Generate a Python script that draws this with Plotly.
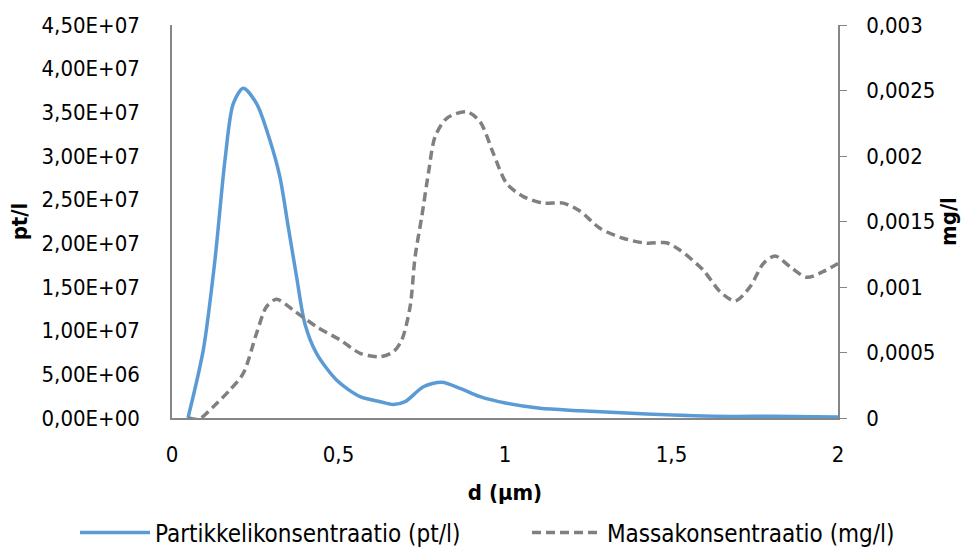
import plotly.graph_objects as go

# Particle concentration (pt/l), left axis
d_part = [0.048, 0.094, 0.129, 0.159, 0.184, 0.214, 0.254, 0.294, 0.324, 0.349, 0.374,
          0.399, 0.434, 0.494, 0.565, 0.625, 0.665, 0.700, 0.755, 0.81, 0.865, 0.925,
          1.005, 1.105, 1.225, 1.425, 1.676, 1.8, 2.0]
part = [0, 7.8e6, 1.81e7, 2.95e7, 3.6e7, 3.775e7, 3.6e7, 3.18e7, 2.76e7, 2.19e7, 1.62e7,
        1.08e7, 7.4e6, 4.35e6, 2.44e6, 1.87e6, 1.55e6, 1.87e6, 3.58e6, 4.09e6, 3.4e6, 2.44e6,
        1.68e6, 1.11e6, 8.4e5, 4.6e5, 1.8e5, 2.0e5, 1.2e5]

# Mass concentration (mg/l), right axis
d_mass = [0.049, 0.080, 0.124, 0.174, 0.214, 0.254, 0.284, 0.314, 0.364, 0.434, 0.505,
          0.565, 0.625, 0.665, 0.69, 0.715, 0.73, 0.75, 0.77, 0.79, 0.825, 0.885, 0.925,
          0.965, 1.005, 1.055, 1.115, 1.175, 1.225, 1.285, 1.355, 1.425, 1.485, 1.525,
          1.595, 1.646, 1.691, 1.736, 1.776, 1.811, 1.856, 1.906, 1.955, 2.0]
mass = [0, -0.00001, 8.6e-5, 2.14e-4, 3.4e-4, 6.47e-4, 8.5e-4, 9.06e-4, 8.24e-4, 6.97e-4, 5.95e-4,
        4.94e-4, 4.68e-4, 5.06e-4, 5.95e-4, 8.5e-4, 1.23e-3, 1.537e-3, 1.868e-3, 2.147e-3,
        2.288e-3, 2.338e-3, 2.262e-3, 2.02e-3, 1.79e-3, 1.69e-3, 1.64e-3, 1.64e-3, 1.58e-3,
        1.448e-3, 1.372e-3, 1.334e-3, 1.338e-3, 1.282e-3, 1.13e-3, 9.64e-4, 8.93e-4, 1.002e-3,
        1.18e-3, 1.237e-3, 1.155e-3, 1.074e-3, 1.117e-3, 1.18e-3]

x_ticks = [0, 0.5, 1, 1.5, 2]
x_tick_labels = ["0", "0,5", "1", "1,5", "2"]
left_ticks = [0, 5e6, 1e7, 1.5e7, 2e7, 2.5e7, 3e7, 3.5e7, 4e7, 4.5e7]
left_tick_labels = ["0,00E+00", "5,00E+06", "1,00E+07", "1,50E+07", "2,00E+07",
                    "2,50E+07", "3,00E+07", "3,50E+07", "4,00E+07", "4,50E+07"]
right_ticks = [0, 0.0005, 0.001, 0.0015, 0.002, 0.0025, 0.003]
right_tick_labels = ["0", "0,0005", "0,001", "0,0015", "0,002", "0,0025", "0,003"]

FONT = "DejaVu Sans Condensed, Lato"
FS = 22
LFS = 24
AX = "#868686"

fig = go.Figure()
fig.add_trace(go.Scatter(x=d_part, y=part, mode="lines", name="Partikkelikonsentraatio (pt/l)",
                         legend="legend",
                         line=dict(color="#5B9BD5", width=3.5, shape="spline", smoothing=0.8)))
fig.add_trace(go.Scatter(x=d_mass, y=mass, mode="lines", name="Massakonsentraatio (mg/l)",
                         yaxis="y2", legend="legend2",
                         line=dict(color="#808080", width=3.5, dash="9px,5px", shape="spline", smoothing=0.8)))

fig.update_layout(
    width=967, height=547,
    margin=dict(l=172, r=129, t=25, b=129, autoexpand=False),
    paper_bgcolor="white", plot_bgcolor="white",
    font=dict(family=FONT, size=FS, color="#000000"),
    showlegend=True,
    legend=dict(orientation="h", x=-0.1456, xanchor="left", y=-0.2926, yanchor="middle",
                font=dict(size=LFS), itemwidth=70, bgcolor="rgba(0,0,0,0)"),
    legend2=dict(orientation="h", x=0.533, xanchor="left", y=-0.2926, yanchor="middle",
                 font=dict(size=LFS), itemwidth=70, bgcolor="rgba(0,0,0,0)"),
    xaxis=dict(range=[0, 2], tickvals=x_ticks, ticktext=x_tick_labels, showgrid=False,
               zeroline=False, showline=True, linecolor=AX, linewidth=1.5, ticks="",
               ticklabelstandoff=16, automargin=False,
               title=dict(text="<b>d (µm)</b>", font=dict(size=FS), standoff=18)),
    yaxis=dict(range=[0, 4.5e7], tickvals=left_ticks, ticktext=left_tick_labels, showgrid=False,
               zeroline=False, showline=True, linecolor=AX, linewidth=1.5, ticks="",
               ticklabelstandoff=26, automargin=False,
               title=dict(text="<b>pt/l</b>", font=dict(size=FS), standoff=8)),
    yaxis2=dict(range=[0, 0.003], tickvals=right_ticks, ticktext=right_tick_labels, overlaying="y",
                side="right", showgrid=False, zeroline=False, showline=True, linecolor=AX,
                linewidth=1.5, ticks="outside", ticklen=7, tickcolor=AX, ticklabelstandoff=15,
                automargin=False,
                title=dict(text="<b>mg/l</b>", font=dict(size=FS), standoff=6)),
)

fig.write_html("out.html")
